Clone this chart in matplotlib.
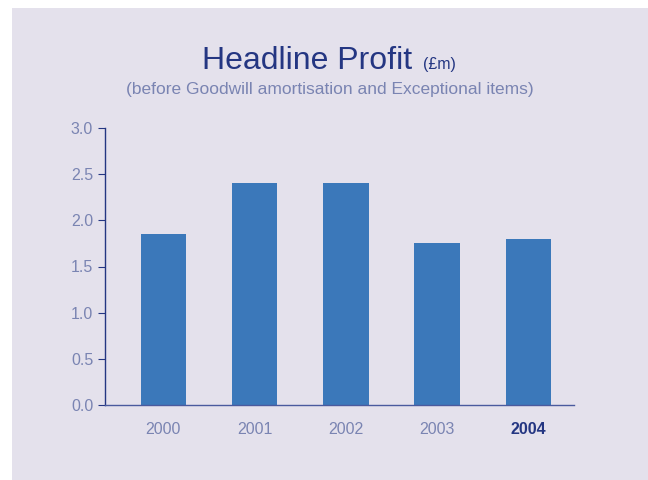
import matplotlib
matplotlib.use("Agg")
import matplotlib.pyplot as plt
from matplotlib.patches import Rectangle

years = ["2000", "2001", "2002", "2003", "2004"]
profit = [1.85, 2.40, 2.40, 1.75, 1.80]
yticks = [0.0, 0.5, 1.0, 1.5, 2.0, 2.5, 3.0]

panel_color = "#e4e1ec"
bar_color = "#3b78ba"
navy = "#243682"
label_color = "#7a84b2"

plt.rcParams["font.family"] = ["Liberation Sans", "DejaVu Sans"]

fig = plt.figure(figsize=(6.48, 4.8), dpi=100)
fig.patch.set_facecolor("white")
fig.patches.append(Rectangle((12 / 648, 0), 1 - 12 / 648, 1 - 8 / 480,
                             transform=fig.transFigure, facecolor=panel_color,
                             edgecolor="none", zorder=-10))

ax = fig.add_axes([105 / 648, 75 / 480, (574 - 105) / 648, (405 - 128) / 480])
ax.set_facecolor("none")
x = list(range(len(years)))
ax.bar(x, profit, width=0.5, color=bar_color, zorder=2)
ax.set_xlim(-0.64, 4.5)
ax.set_ylim(0, 3.0)

ax.set_yticks(yticks)
ax.set_yticklabels([f"{v:.1f}" for v in yticks])
ax.set_xticks(x)
ax.set_xticklabels(years)
ax.tick_params(axis="y", length=5, width=0.8, color=navy, pad=3.5,
               labelsize=11.5, labelcolor=label_color)
ax.tick_params(axis="x", length=0, pad=12.5, labelsize=11.5, labelcolor=label_color)
last = ax.get_xticklabels()[-1]
last.set_fontweight("bold")
last.set_color(navy)

for side in ("top", "right"):
    ax.spines[side].set_visible(False)
ax.spines["left"].set_color(navy)
ax.spines["left"].set_linewidth(1.0)
ax.spines["bottom"].set_color("#4a5a9e")
ax.spines["bottom"].set_linewidth(1.0)

fig.text(412 / 648, 1 - 69 / 480, "Headline Profit", fontsize=23, color=navy,
         ha="right", va="baseline")
fig.text(423 / 648, 1 - 69 / 480, "(£m)", fontsize=11.5, color=navy,
         ha="left", va="baseline")
fig.text(330 / 648, 1 - 94 / 480,
         "(before Goodwill amortisation and Exceptional items)",
         fontsize=12.5, color=label_color, ha="center", va="baseline")

fig.savefig("out.png", dpi=100, facecolor=fig.get_facecolor())
